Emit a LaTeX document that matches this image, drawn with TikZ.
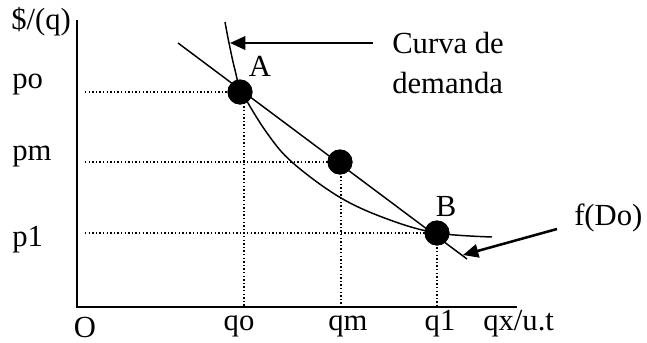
\documentclass[tikz,border=0pt]{standalone}
\usepackage{fontspec}
\setmainfont{Liberation Serif}
\usetikzlibrary{arrows.meta}
\begin{document}
\begin{tikzpicture}[x=0.75pt,y=-0.75pt,
  font=\fontsize{23}{27}\selectfont,
  axis/.style={line width=1.6pt},
  curveline/.style={line width=1.1pt},
  guide/.style={line width=0.9pt, dash pattern=on 1.1pt off 1.6pt},
  bigdot/.style={circle, fill=black, inner sep=0pt, minimum size=18.75pt},
  lbl/.style={inner sep=0pt},
  pointer/.style={line width=1.9pt, -{Triangle[length=11.5pt,width=10pt]}}]
\useasboundingbox (0,0) rectangle (647,343);

% axes
\coordinate (ytop) at (77,20);
\coordinate (orig) at (77,307);
\coordinate (xend) at (517,307);
\draw[axis] (ytop) -- (orig) -- (xend);

% demand curve
\draw[curveline] plot[smooth, tension=0.6] coordinates {(225,22) (229,43) (235,70) (242,92) (267,133) (293,163) (341,198) (390,220) (437,233) (492,237)};

% straight line f(Do)
\coordinate (l1) at (178,43);
\coordinate (l2) at (467,259);
\draw[curveline] (l1) -- (l2);

% dots
\node[bigdot] (A) at (240,92) {};
\node[bigdot] (M) at (340,162) {};
\node[bigdot] (B) at (437,233) {};

% guides
\coordinate (hA) at (85,92);
\coordinate (hM) at (85,162);
\coordinate (hB) at (85,233);
\coordinate (vA) at (244,307);
\coordinate (vM) at (341,307);
\coordinate (vB) at (437,307);
\draw[guide] (hA) -- (A.center);
\draw[guide] (hM) -- (M.center);
\draw[guide] (hB) -- (B.center);
\draw[guide] (A.center) ++(4,0) -- (vA);
\draw[guide] (M.center) ++(1,0) -- (vM);
\draw[guide] (B.center) -- (vB);
\node[bigdot] at (A) {};
\node[bigdot] at (M) {};
\node[bigdot] at (B) {};

% labels
\node[lbl, anchor=base west] (ylab) at (11,29) {\$/(q)};
\node[lbl, anchor=base west] (po) at (12,88) {po};
\node[lbl, anchor=base west] (pm) at (12,160) {pm};
\node[lbl, anchor=base west] (p1) at (12,246) {p1};
\node[lbl, anchor=base] (O) at (85,337) {O};
\node[lbl, anchor=base] (qo) at (239,330) {qo};
\node[lbl, anchor=base] (qm) at (348,330) {qm};
\node[lbl, anchor=base] (q1) at (440,330) {q1};
\node[lbl, anchor=base west] (qx) at (483,330) {qx/u.t};
\node[lbl, anchor=base] (Alab) at (260,76) {A};
\node[lbl, anchor=base] (Blab) at (446,216) {B};
\node[lbl, anchor=base west] (cd1) at (392,53) {Curva de};
\node[lbl, anchor=base west] (cd2) at (392,93) {demanda};
\node[lbl, anchor=base west] (fdo) at (574,225) {f(Do)};

% pointers
\coordinate (c1s) at (373,43);
\coordinate (c1e) at (230,43);
\draw[pointer] (c1s) -- (c1e);
\coordinate (c2s) at (557,229);
\coordinate (c2e) at (463,255);
\draw[pointer] (c2s) -- (c2e);
\end{tikzpicture}
\end{document}
